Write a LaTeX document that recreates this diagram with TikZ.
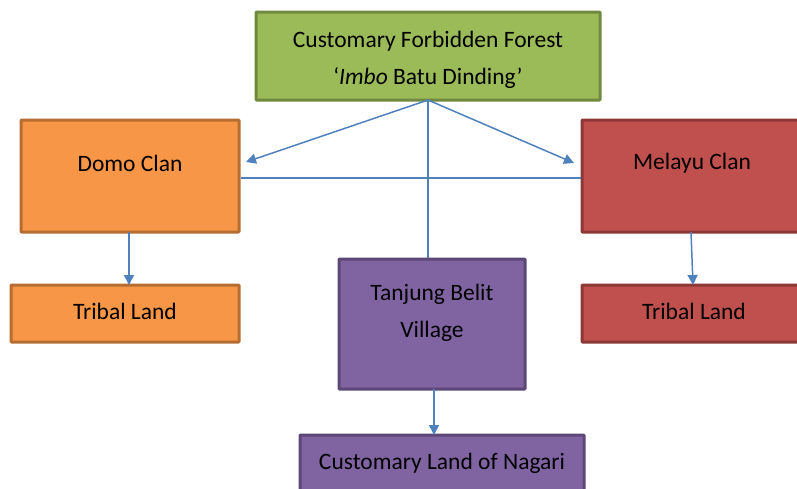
\documentclass[tikz,border=0pt]{standalone}
\usepackage{fontspec}
\setmainfont{Carlito}
\usetikzlibrary{arrows.meta}
\definecolor{gfill}{HTML}{9BBB59}\definecolor{gline}{HTML}{71893F}
\definecolor{ofill}{HTML}{F79646}\definecolor{oline}{HTML}{B66D31}
\definecolor{rfill}{HTML}{C0504D}\definecolor{rline}{HTML}{8C3836}
\definecolor{pfill}{HTML}{8064A2}\definecolor{pline}{HTML}{5C4776}
\definecolor{conn}{HTML}{4F81BD}
\begin{document}
\begin{tikzpicture}[x=1pt,y=-1pt,
  box/.style={draw, line width=3pt, inner sep=0pt, rounded corners=0.8pt},
  lbl/.style={font=\fontsize{23.5}{37}\selectfont, text=black, align=center, inner sep=0pt},
  conline/.style={draw=conn, line width=1.5pt},
  arr/.style={conline, -{Triangle[width=10pt,length=10pt]}}]
\useasboundingbox (0,0) rectangle (797,488);
\clip (0,0) rectangle (797,488);
% boxes
\node[box, fill=gfill, draw=gline, minimum width=344pt, minimum height=88pt] (forest) at (428,56) {};
\node[box, fill=ofill, draw=oline, minimum width=218pt, minimum height=112pt] (domo) at (130,176) {};
\node[box, fill=rfill, draw=rline, minimum width=220pt, minimum height=112pt] (melayu) at (692,176) {};
\node[box, fill=ofill, draw=oline, minimum width=228pt, minimum height=57pt] (tribalL) at (125,313.5) {};
\node[box, fill=rfill, draw=rline, minimum width=224pt, minimum height=57pt] (tribalR) at (694,313.5) {};
\node[box, fill=pfill, draw=pline, minimum width=186pt, minimum height=130pt] (village) at (432,324) {};
\node[box, fill=pfill, draw=pline, minimum width=284pt, minimum height=70pt] (nagari) at (442,470) {};
% labels
\node[lbl] (forestT) at (428,59.5) {Customary Forbidden Forest\\‘\textit{Imbo} Batu Dinding’};
\node[lbl] (domoT) at (130,163) {Domo Clan};
\node[lbl] (melayuT) at (692,163) {Melayu Clan};
\node[lbl] (tribalLT) at (125,311.5) {Tribal Land};
\node[lbl] (tribalRT) at (694,311.5) {Tribal Land};
\node[lbl] (villageT) at (432,312.5) {Tanjung Belit\\Village};
\node[lbl] (nagariT) at (442,463) {Customary Land of Nagari};
% connectors
\coordinate (hub) at (428,100);
\coordinate (domoTip) at (246,162);
\coordinate (melayuTip) at (574,163);
\draw[arr] (hub) -- (domoTip);
\draw[arr] (hub) -- (melayuTip);
\draw[conline] (hub) -- (village.north -| hub);
\draw[conline] (domo.east |- 0,178) -- (melayu.west |- 0,178);
\draw[arr] (129,232) -- (129,285);
\draw[arr] (691,232) -- (693,285);
\draw[arr] (434,389) -- (434,435);
\end{tikzpicture}
\end{document}
